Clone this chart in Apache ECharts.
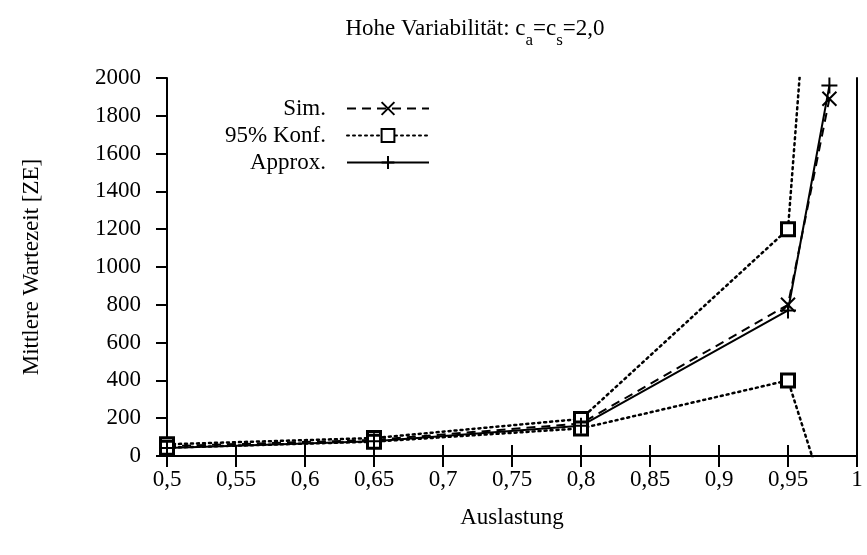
<!DOCTYPE html>
<html>
<head>
<meta charset="utf-8">
<script src="https://cdn.jsdelivr.net/npm/echarts@6/dist/echarts.min.js"></script>
<style>
  html, body { margin: 0; padding: 0; background: #fff; }
  #chart { width: 867px; height: 555px; }
</style>
</head>
<body>
<div id="chart"></div>
<script>
// Auslastung (x) und Wartezeiten (y)
const auslastung = [0.5, 0.65, 0.8, 0.95, 0.98];
const sim = [52, 85, 172, 800, 1890];
const konfOben = [62, 95, 196, 1200, 4070];
const konfUnten = [44, 76, 146, 400, -290];
const approx = [42, 78, 160, 770, 1960];

const FONT = 'Liberation Serif';
const SIZE = 23;

const crossSymbol = 'path://M0,0L10,10M10,0L0,10';
const plusSymbol = 'path://M5,0L5,10M0,5L10,5';

const pairs = (ys) => auslastung.map((x, i) => [x, ys[i]]);
const fmtX = (v) => String(+v.toFixed(2)).replace('.', ',');

const chart = echarts.init(document.getElementById('chart'), null, { renderer: 'canvas' });

const black = '#000';
const tickStyle = { show: true, inside: false, length: 11, lineStyle: { color: black, width: 2 } };
const lineStyle = { show: true, lineStyle: { color: black, width: 2 } };

const legendRow = (name, top) => ({
  data: [name],
  orient: 'horizontal',
  align: 'right',
  right: 432,
  top: top,
  itemWidth: 82,
  itemHeight: 16,
  selectedMode: false,
  textStyle: { fontFamily: FONT, fontSize: SIZE, color: black, padding: [0, 16, 0, 0] }
});

chart.setOption({
  backgroundColor: '#fff',
  animation: false,
  title: {
    text: 'Hohe Variabilität: c{sub|a}=c{sub|s}=2,0',
    left: 470,
    textAlign: 'center',
    top: 12,
    textStyle: {
      fontFamily: FONT, fontSize: SIZE, fontWeight: 'normal', color: black,
      rich: {
        sub: { fontFamily: FONT, fontSize: 17, color: black, verticalAlign: 'top', padding: [15, 0, 0, 0], lineHeight: 17 }
      }
    }
  },
  legend: [
    legendRow('Sim.', 92),
    legendRow('95% Konf.', 119),
    legendRow('Approx.', 146)
  ],
  grid: { left: 167, right: 10, top: 78, bottom: 99, containLabel: false },
  xAxis: [
    {
      type: 'value', min: 0.5, max: 1, interval: 0.05, position: 'bottom',
      name: 'Auslastung', nameLocation: 'middle', nameGap: 50,
      nameTextStyle: { fontFamily: FONT, fontSize: SIZE, color: black },
      axisLine: lineStyle, axisTick: tickStyle, splitLine: { show: false },
      axisLabel: { fontFamily: FONT, fontSize: SIZE, color: black, margin: 12, formatter: fmtX }
    },
    {
      type: 'value', min: 0.5, max: 1, interval: 0.05, position: 'top',
      axisLine: lineStyle, axisTick: tickStyle, splitLine: { show: false },
      axisLabel: { show: false }
    }
  ],
  yAxis: [
    {
      type: 'value', min: 0, max: 2000, interval: 200, position: 'left',
      name: 'Mittlere Wartezeit [ZE]', nameLocation: 'middle', nameGap: 124, nameRotate: 90,
      nameTextStyle: { fontFamily: FONT, fontSize: SIZE, color: black },
      axisLine: lineStyle, axisTick: tickStyle, splitLine: { show: false },
      axisLabel: { fontFamily: FONT, fontSize: SIZE, color: black, margin: 26, formatter: (v) => String(v) }
    },
    {
      type: 'value', min: 0, max: 2000, interval: 200, position: 'right',
      axisLine: lineStyle, axisTick: { show: false }, splitLine: { show: false },
      axisLabel: { show: false }
    }
  ],
  series: [
    {
      name: 'Sim.', type: 'line', data: pairs(sim), clip: true,
      symbol: crossSymbol, symbolSize: 14,
      lineStyle: { color: black, width: 2, type: [9, 6] },
      itemStyle: { color: black, borderColor: black, borderWidth: 2 }
    },
    {
      name: '95% Konf.', type: 'line', data: pairs(konfOben), clip: true,
      symbol: 'rect', symbolSize: 13,
      lineStyle: { color: black, width: 2.5, type: [2, 4], cap: 'round' },
      itemStyle: { color: '#fff', borderColor: black, borderWidth: 3 }
    },
    {
      name: '95% Konf.', type: 'line', data: pairs(konfUnten), clip: true,
      symbol: 'rect', symbolSize: 13,
      lineStyle: { color: black, width: 2.5, type: [2, 4], cap: 'round' },
      itemStyle: { color: '#fff', borderColor: black, borderWidth: 3 }
    },
    {
      name: 'Approx.', type: 'line', data: pairs(approx), clip: true,
      symbol: plusSymbol, symbolSize: 16,
      lineStyle: { color: black, width: 2 },
      itemStyle: { color: black, borderColor: black, borderWidth: 2 }
    }
  ]
});
</script>
</body>
</html>
